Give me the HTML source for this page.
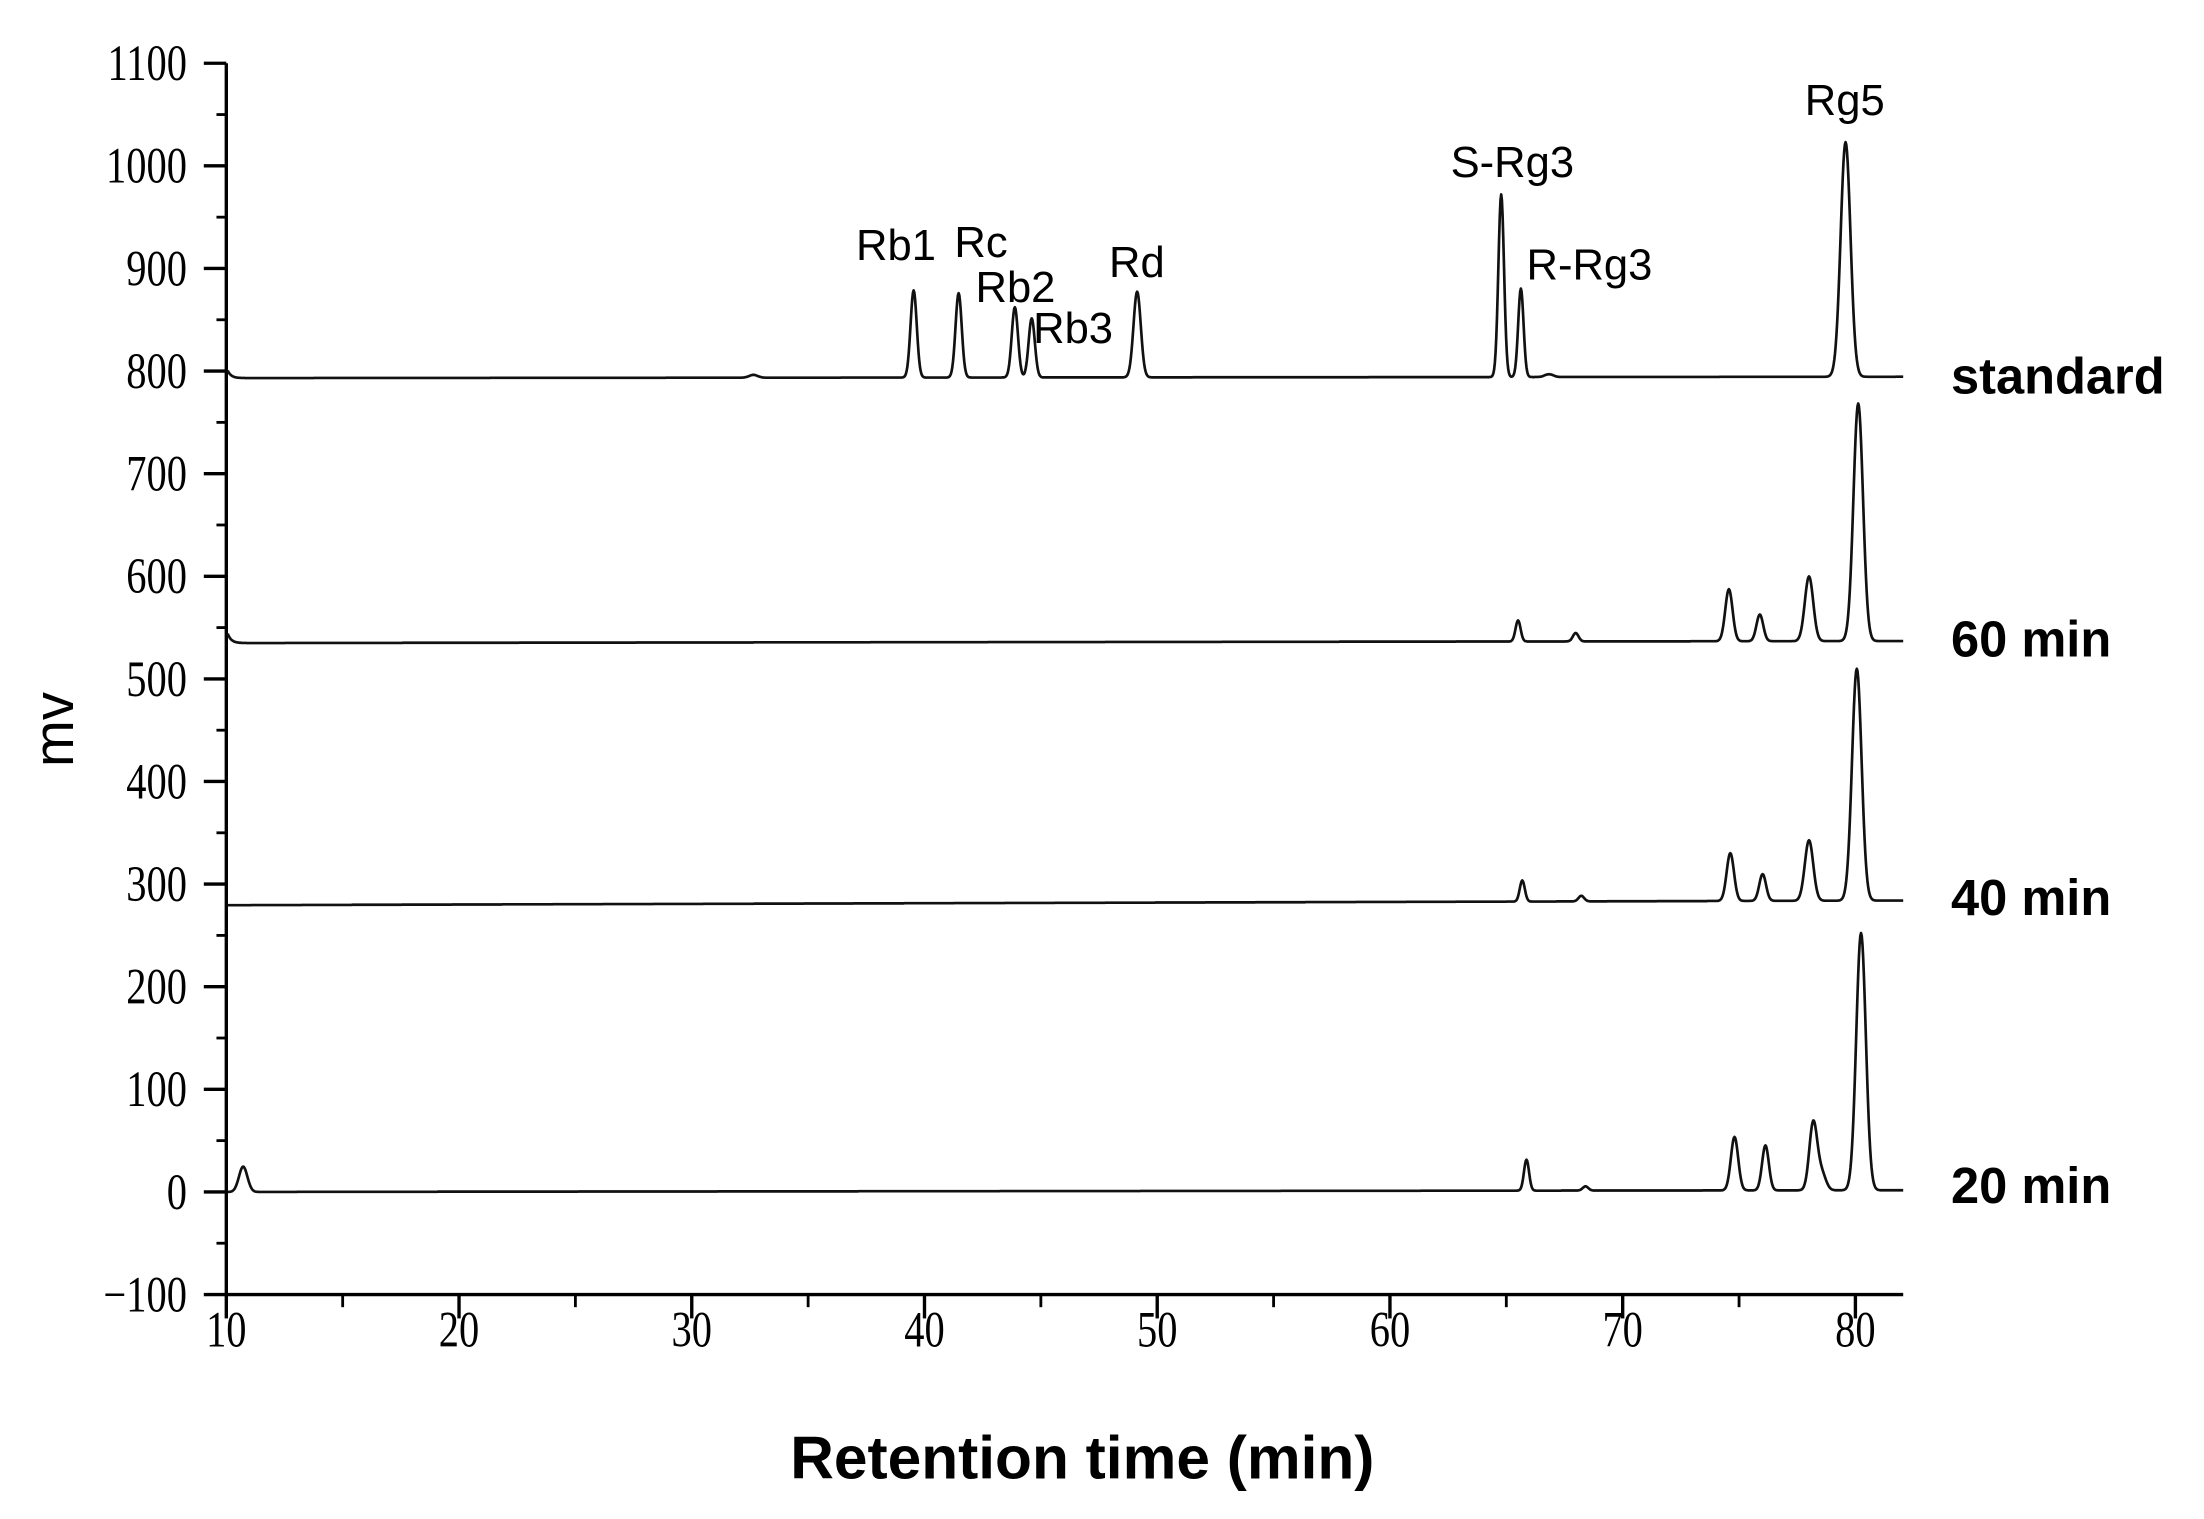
<!DOCTYPE html>
<html><head><meta charset="utf-8"><style>
html,body{margin:0;padding:0;background:#fff;}
svg{display:block;}
</style></head><body>
<svg id="s" width="2204" height="1519" viewBox="0 0 1568 1080.7" preserveAspectRatio="none" xmlns="http://www.w3.org/2000/svg">
<g id="axes" stroke="#000" fill="none"></g>
<g font-family="Liberation Serif, serif" font-size="36" fill="#000" id="ylab" text-anchor="end"></g>
<g font-family="Liberation Serif, serif" font-size="36" fill="#000" id="xlab" text-anchor="middle"></g>
<g id="traces" fill="none" stroke="#111" stroke-width="1.9" stroke-linejoin="round"></g>
<g font-family="Liberation Sans, sans-serif" font-size="31" fill="#000">
<text x="609" y="185">Rb1</text>
<text x="679" y="183">Rc</text>
<text x="694" y="215">Rb2</text>
<text x="735" y="244">Rb3</text>
<text x="789" y="197">Rd</text>
<text x="1032" y="126">S-Rg3</text>
<text x="1086" y="199">R-Rg3</text>
<text x="1284" y="82">Rg5</text>
</g>
<g font-family="Liberation Sans, sans-serif" font-size="36" font-weight="bold" fill="#000">
<text x="1388" y="280">standard</text>
<text x="1388" y="467">60 min</text>
<text x="1388" y="651">40 min</text>
<text x="1388" y="856">20 min</text>
</g>
<text x="770" y="1052" text-anchor="middle" font-family="Liberation Sans, sans-serif" font-size="43" font-weight="bold">Retention time (min)</text>
<text transform="translate(52,519) rotate(-90)" text-anchor="middle" font-family="Liberation Sans, sans-serif" font-size="40">mv</text>
</svg>
<script>
var NS="http://www.w3.org/2000/svg";
function el(p,t,a,txt){var e=document.createElementNS(NS,t);for(var k in a)e.setAttribute(k,a[k]);if(txt!==undefined)e.textContent=txt;document.getElementById(p).appendChild(e);return e;}
var X0=161,XE=1354,YT=45,YB=921;
function yv(v){return 921-(v+100)*(876/1200);}
function xv(t){return 161+(t-10)*(1320-161)/70;}
el("axes","line",{x1:X0,y1:YT,x2:X0,y2:YB+1,"stroke-width":2.4});
el("axes","line",{x1:X0-1,y1:YB,x2:XE,y2:YB,"stroke-width":2.4});
for(var v=-100;v<=1100;v+=50){var y=yv(v);var maj=(v%100===0);
el("axes","line",{x1:maj?X0-16:X0-7,y1:y,x2:X0,y2:y,"stroke-width":maj?2.4:2});
if(maj)el("ylab","text",{transform:"translate(133,"+(y+12)+") scale(0.8,1)"},v<0?"\u2212100":String(v));}
for(var t=10;t<=82;t+=5){var x=xv(t);var maj=(t%10===0);
el("axes","line",{x1:x,y1:YB,x2:x,y2:maj?YB+17:YB+9,"stroke-width":maj?2.4:2});
if(maj)el("xlab","text",{transform:"translate("+x+",958) scale(0.8,1)"},String(t));}
function trace(base,slope,peaks,start){
var d="";for(var x=X0+1;x<=XE;x+=0.5){var y=base+slope*(x-X0);
if(start)y+=start*Math.exp(-(x-X0)/2.5);
for(var i=0;i<peaks.length;i++){var p=peaks[i];var dx=x-p[0];y-=(p[1])*Math.exp(-dx*dx/(2*p[2]*p[2]));}
d+=(d?"L":"M")+x.toFixed(1)+" "+y.toFixed(1);}
el("traces","path",{d:d});}
trace(269,-0.0008,[[536,2,3],[650,62,2.2],[682,60,2.2],[722,50,2.2],[734,42,2.2],[809,61,2.6],[1068,130,2.0],[1082,63,1.9],[1102,2,3],[1313,167,3.5]],-8);
trace(457.5,-0.0012,[[1080,15,1.8],[1121,6,2],[1230,37,2.6],[1252,19,2.4],[1287,46,3],[1322,169,3.4]],-10);
trace(644,-0.0028,[[1083,15,1.8],[1125,4,2],[1231,34,2.6],[1254,19,2.4],[1287,43,3],[1321,165,3.4]],0);
trace(848,-0.0010,[[173,18,3],[1086,22,1.8],[1128,3,2],[1234,38,2.6],[1256,32,2.4],[1290,48,2.8],[1296,12,3],[1324,183,3.4]],0);
</script>
</body></html>
